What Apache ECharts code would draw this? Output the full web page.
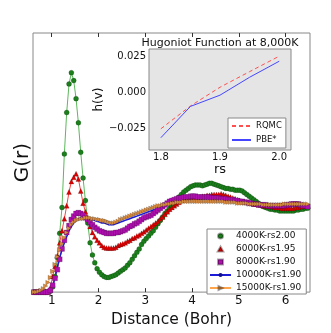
<!DOCTYPE html>
<html>
<head>
<meta charset="utf-8">
<script src="https://cdn.jsdelivr.net/npm/echarts@6/dist/echarts.min.js"></script>
<style>
    html, body { margin: 0; padding: 0; background: #fff; }
    #chart { width: 331px; height: 333px; }
</style>
</head>
<body>
<div id="chart"></div>
<script>
// distance grid (Bohr)
const r = [
    0.62, 0.67, 0.72, 0.77, 0.82, 0.87, 0.92, 0.97, 1.02, 1.07,
    1.12, 1.17, 1.22, 1.27, 1.32, 1.37, 1.42, 1.47, 1.52, 1.57,
    1.62, 1.67, 1.72, 1.77, 1.82, 1.87, 1.92, 1.97, 2.02, 2.07,
    2.12, 2.17, 2.22, 2.27, 2.32, 2.37, 2.42, 2.47, 2.52, 2.57,
    2.62, 2.67, 2.72, 2.77, 2.82, 2.87, 2.92, 2.97, 3.02, 3.07,
    3.12, 3.17, 3.22, 3.27, 3.32, 3.37, 3.42, 3.47, 3.52, 3.57,
    3.62, 3.67, 3.72, 3.77, 3.82, 3.87, 3.92, 3.97, 4.02, 4.07,
    4.12, 4.17, 4.22, 4.27, 4.32, 4.37, 4.42, 4.47, 4.52, 4.57,
    4.62, 4.67, 4.72, 4.77, 4.82, 4.87, 4.92, 4.97, 5.02, 5.07,
    5.12, 5.17, 5.22, 5.27, 5.32, 5.37, 5.42, 5.47, 5.52, 5.57,
    5.62, 5.67, 5.72, 5.77, 5.82, 5.87, 5.92, 5.97, 6.02, 6.07,
    6.12, 6.17, 6.22, 6.27, 6.32, 6.37, 6.42, 6.47
];

const g4000 = [
    0, 0, 0, 0, 0, 0, 0, 0.01, 0.06, 0.18,
    0.40, 0.68, 0.98, 1.60, 2.08, 2.41, 2.54, 2.45, 2.24, 1.96,
    1.62, 1.32, 1.06, 0.80, 0.57, 0.43, 0.34, 0.27, 0.23, 0.20,
    0.18, 0.17, 0.17, 0.18, 0.19, 0.20, 0.22, 0.24, 0.26, 0.28,
    0.31, 0.34, 0.38, 0.42, 0.46, 0.50, 0.55, 0.59, 0.62, 0.65,
    0.68, 0.71, 0.75, 0.79, 0.83, 0.87, 0.91, 0.94, 0.97, 1.00,
    1.04, 1.07, 1.10, 1.13, 1.16, 1.18, 1.20, 1.22, 1.23, 1.24,
    1.24, 1.24, 1.23, 1.24, 1.25, 1.26, 1.26, 1.25, 1.24, 1.23,
    1.22, 1.21, 1.20, 1.20, 1.19, 1.19, 1.18, 1.18, 1.18, 1.17,
    1.15, 1.13, 1.11, 1.09, 1.07, 1.05, 1.03, 1.01, 0.99, 0.98,
    0.97, 0.96, 0.96, 0.95, 0.95, 0.94, 0.94, 0.94, 0.94, 0.94,
    0.94, 0.94, 0.95, 0.95, 0.96, 0.96, 0.97, 0.97
];

const g6000 = [
    0, 0, 0, 0, 0, 0, 0, 0.05, 0.18, 0.30,
    0.42, 0.57, 0.71, 0.85, 1.00, 1.16, 1.28, 1.33, 1.37, 1.31,
    1.17, 1.03, 0.93, 0.85, 0.76, 0.69, 0.64, 0.60, 0.57, 0.54,
    0.52, 0.51, 0.51, 0.51, 0.51, 0.52, 0.54, 0.55, 0.56, 0.57,
    0.59, 0.60, 0.62, 0.63, 0.65, 0.66, 0.68, 0.70, 0.72, 0.74,
    0.76, 0.78, 0.80, 0.82, 0.85, 0.87, 0.90, 0.93, 0.96, 0.98,
    1.00, 1.02, 1.04, 1.06, 1.07, 1.08, 1.09, 1.10, 1.10, 1.10,
    1.10, 1.10, 1.11, 1.11, 1.12, 1.12, 1.13, 1.13, 1.13, 1.13,
    1.14, 1.13, 1.12, 1.11, 1.10, 1.09, 1.08, 1.07, 1.06, 1.05,
    1.05, 1.04, 1.03, 1.03, 1.02, 1.02, 1.01, 1.01, 1.00, 1.00,
    1.00, 0.99, 0.99, 0.98, 0.98, 0.98, 0.97, 0.97, 0.97, 0.97,
    0.97, 0.97, 0.98, 0.98, 0.99, 0.99, 1.00, 1.00
];

const g8000 = [
    0, 0, 0, 0, 0, 0, 0, 0.02, 0.08, 0.16,
    0.26, 0.38, 0.50, 0.60, 0.69, 0.77, 0.84, 0.88, 0.91, 0.92,
    0.91, 0.89, 0.86, 0.84, 0.81, 0.78, 0.75, 0.73, 0.71, 0.70,
    0.69, 0.68, 0.68, 0.68, 0.68, 0.69, 0.69, 0.70, 0.71, 0.72,
    0.74, 0.76, 0.77, 0.79, 0.80, 0.82, 0.84, 0.86, 0.87, 0.88,
    0.89, 0.91, 0.93, 0.95, 0.97, 0.99, 1.01, 1.03, 1.05, 1.06,
    1.07, 1.08, 1.09, 1.09, 1.10, 1.10, 1.10, 1.11, 1.11, 1.11,
    1.10, 1.10, 1.10, 1.10, 1.10, 1.10, 1.09, 1.09, 1.09, 1.09,
    1.08, 1.08, 1.08, 1.07, 1.07, 1.07, 1.06, 1.06, 1.05, 1.05,
    1.04, 1.04, 1.03, 1.03, 1.02, 1.02, 1.01, 1.01, 1.01, 1.01,
    1.00, 1.00, 1.00, 1.00, 1.00, 1.00, 1.00, 1.00, 1.01, 1.01,
    1.02, 1.02, 1.02, 1.02, 1.01, 1.00, 1.00, 0.99
];

const g10000 = [
    0, 0, 0, 0, 0, 0, 0, 0.01, 0.06, 0.17,
    0.29, 0.40, 0.49, 0.57, 0.64, 0.71, 0.76, 0.80, 0.83, 0.85,
    0.86, 0.87, 0.87, 0.86, 0.85, 0.84, 0.83, 0.82, 0.81, 0.80,
    0.80, 0.79, 0.78, 0.78, 0.78, 0.79, 0.80, 0.81, 0.82, 0.83,
    0.84, 0.85, 0.86, 0.87, 0.88, 0.89, 0.90, 0.91, 0.92, 0.93,
    0.94, 0.95, 0.96, 0.97, 0.98, 0.99, 1.00, 1.01, 1.02, 1.03,
    1.04, 1.05, 1.06, 1.07, 1.07, 1.08, 1.08, 1.09, 1.09, 1.09,
    1.09, 1.09, 1.09, 1.09, 1.09, 1.08, 1.08, 1.08, 1.07, 1.07,
    1.07, 1.06, 1.06, 1.06, 1.05, 1.05, 1.05, 1.04, 1.04, 1.04,
    1.03, 1.03, 1.03, 1.02, 1.02, 1.02, 1.01, 1.01, 1.01, 1.01,
    1.00, 1.00, 1.00, 1.00, 1.00, 1.00, 1.00, 1.00, 1.00, 1.00,
    1.01, 1.01, 1.01, 1.00, 1.00, 1.00, 1.00, 1.00
];

const g15000 = [
    0, 0, 0.01, 0.02, 0.04, 0.07, 0.11, 0.17, 0.24, 0.32,
    0.41, 0.49, 0.56, 0.63, 0.69, 0.74, 0.78, 0.81, 0.83, 0.84,
    0.85, 0.85, 0.86, 0.86, 0.86, 0.85, 0.85, 0.84, 0.84, 0.83,
    0.83, 0.82, 0.81, 0.80, 0.80, 0.81, 0.82, 0.84, 0.85, 0.86,
    0.87, 0.88, 0.89, 0.90, 0.91, 0.92, 0.93, 0.94, 0.95, 0.96,
    0.97, 0.98, 0.99, 1.00, 1.00, 1.01, 1.01, 1.02, 1.02, 1.03,
    1.03, 1.04, 1.04, 1.04, 1.05, 1.05, 1.05, 1.05, 1.05, 1.05,
    1.05, 1.05, 1.05, 1.05, 1.05, 1.05, 1.05, 1.05, 1.05, 1.05,
    1.05, 1.05, 1.04, 1.04, 1.04, 1.04, 1.04, 1.03, 1.03, 1.03,
    1.03, 1.03, 1.02, 1.02, 1.02, 1.02, 1.02, 1.02, 1.01, 1.01,
    1.01, 1.01, 1.01, 1.01, 1.01, 1.01, 1.01, 1.02, 1.02, 1.02,
    1.02, 1.02, 1.02, 1.02, 1.02, 1.02, 1.02, 1.02
];

const xTicks = [1, 2, 3, 4, 5, 6];

// inset: Hugoniot function
const rs = [1.80, 1.85, 1.90, 1.95, 2.00];
const hRQMC = [-0.0253, -0.0095, 0.0035, 0.0143, 0.0250];
const errRQMC = [0.0012, 0.0012, 0.0012, 0.0012, 0.0040];
const hPBE = [-0.0315, -0.0098, -0.0020, 0.0104, 0.0215];
const errPBE = [0.0010, 0.0010, 0.0010, 0.0010, 0.0020];
const zeroLine = [[1.80, 0], [2.00, 0]];
const rsTicks = [1.8, 1.9, 2.0];
const hTicks = [-0.025, 0, 0.025];

const FONT = 'DejaVu Sans';
const chart = echarts.init(document.getElementById('chart'));

function pairs(xs, ys) {
    return xs.map((x, i) => [x, ys[i]]);
}

function gSeries(name, ys, opt) {
    return Object.assign({
        name: name,
        type: 'line',
        xAxisIndex: 0,
        yAxisIndex: 0,
        data: pairs(r, ys),
        showSymbol: true,
        showAllSymbol: true,
        animation: false,
        clip: true
    }, opt);
}

function errSeries(xs, ys, errs) {
    return {
        type: 'custom',
        xAxisIndex: 2,
        yAxisIndex: 1,
        silent: true,
        z: 4,
        data: xs.map((x, i) => [x, ys[i] - errs[i], ys[i] + errs[i]]),
        renderItem: function (params, api) {
            const lo = api.coord([api.value(0), api.value(1)]);
            const hi = api.coord([api.value(0), api.value(2)]);
            const st = { stroke: '#7a7a7a', lineWidth: 1 };
            return {
                type: 'group',
                children: [
                    { type: 'line', shape: { x1: lo[0], y1: lo[1], x2: hi[0], y2: hi[1] }, style: st },
                    { type: 'line', shape: { x1: lo[0] - 2, y1: lo[1], x2: lo[0] + 2, y2: lo[1] }, style: st },
                    { type: 'line', shape: { x1: hi[0] - 2, y1: hi[1], x2: hi[0] + 2, y2: hi[1] }, style: st }
                ]
            };
        }
    };
}

const edge = { borderColor: 'rgba(0,0,0,0.35)', borderWidth: 0.5 };
const tickStyle = { show: true, inside: true, length: 4, lineStyle: { color: '#333', width: 1 } };
const noMarker = { opacity: 0, color: 'rgba(0,0,0,0)', borderWidth: 0 };

// legend marker shapes (path icons keep their aspect in the legend box)
const triIcon = 'path://M5,0L10,9L0,9Z';
const sqIcon = 'path://M0,0L10,0L10,10L0,10Z';

const option = {
    animation: false,
    backgroundColor: '#fff',
    textStyle: { fontFamily: FONT },
    title: {
        text: 'Hugoniot Function at 8,000K',
        left: 215,
        top: 33,
        textAlign: 'center',
        textStyle: { fontFamily: FONT, fontSize: 11, fontWeight: 'normal', color: '#111' }
    },
    grid: [
        { left: 33, top: 33, right: 21, bottom: 33, show: true, borderColor: '#888', borderWidth: 1, backgroundColor: '#fff' },
        { left: 149, top: 49, right: 40, bottom: 183, show: true, borderColor: '#888', borderWidth: 1, backgroundColor: '#e5e5e5', z: 5 }
    ],
    xAxis: [
        {
            type: 'value', gridIndex: 0, min: 0.6, max: 6.52,
            name: 'Distance (Bohr)', nameLocation: 'middle', nameGap: 11,
            nameTextStyle: { fontFamily: FONT, fontSize: 15.5, color: '#111' },
            axisLine: { show: false },
            axisTick: Object.assign({ customValues: xTicks }, tickStyle),
            axisLabel: { customValues: xTicks, margin: 3, fontFamily: FONT, fontSize: 12, color: '#111' },
            splitLine: { show: false }
        },
        {
            type: 'value', gridIndex: 0, min: 0.6, max: 6.52, position: 'top',
            axisLine: { show: false },
            axisTick: Object.assign({ customValues: xTicks }, tickStyle),
            axisLabel: { show: false },
            splitLine: { show: false }
        },
        {
            type: 'value', gridIndex: 1, min: 1.78, max: 2.02,
            name: 'rs', nameLocation: 'middle', nameGap: 5,
            nameTextStyle: { fontFamily: FONT, fontSize: 13, color: '#111' },
            axisLine: { show: false },
            axisTick: Object.assign({ customValues: rsTicks }, tickStyle),
            axisLabel: {
                customValues: rsTicks, margin: 2, fontFamily: FONT, fontSize: 10, color: '#111',
                formatter: v => v.toFixed(1)
            },
            splitLine: { show: false }
        },
        {
            type: 'value', gridIndex: 1, min: 1.78, max: 2.02, position: 'top',
            axisLine: { show: false },
            axisTick: Object.assign({ customValues: rsTicks }, tickStyle),
            axisLabel: { show: false },
            splitLine: { show: false }
        }
    ],
    yAxis: [
        {
            type: 'value', gridIndex: 0, min: 0, max: 3,
            name: 'G(r)', nameLocation: 'middle', nameGap: 0,
            nameTextStyle: { fontFamily: FONT, fontSize: 20, color: '#111' },
            axisLine: { show: false },
            axisTick: { show: false },
            axisLabel: { show: false },
            splitLine: { show: false }
        },
        {
            type: 'value', gridIndex: 1, min: -0.04, max: 0.03,
            name: 'h(v)', nameLocation: 'middle', nameGap: 44,
            nameTextStyle: { fontFamily: FONT, fontSize: 12, color: '#111' },
            axisLine: { show: false },
            axisTick: Object.assign({ customValues: hTicks }, tickStyle),
            axisLabel: {
                customValues: hTicks, margin: 3, fontFamily: FONT, fontSize: 10, color: '#111',
                formatter: v => (v < 0 ? '\u2212' : '') + Math.abs(v).toFixed(3)
            },
            splitLine: { show: false }
        },
        {
            type: 'value', gridIndex: 1, min: -0.04, max: 0.03, position: 'right',
            axisLine: { show: false },
            axisTick: Object.assign({ customValues: hTicks }, tickStyle),
            axisLabel: { show: false },
            splitLine: { show: false }
        }
    ],
    legend: [
        {
            data: [
                { name: '4000K-rs2.00', icon: 'circle' },
                { name: '6000K-rs1.95', icon: triIcon },
                { name: '8000K-rs1.90', icon: sqIcon },
                { name: '10000K-rs1.90' },
                { name: '15000K-rs1.90' }
            ],
            orient: 'vertical', left: 207, top: 229,
            padding: [2, 5, 1, 2],
            itemWidth: 21, itemHeight: 5, itemGap: 3,
            symbolKeepAspect: true,
            backgroundColor: '#fff', borderColor: '#888', borderWidth: 1,
            textStyle: { fontFamily: FONT, fontSize: 9, lineHeight: 10, color: '#111' }
        },
        {
            data: [
                { name: 'RQMC', itemStyle: noMarker },
                { name: 'PBE*', itemStyle: noMarker }
            ],
            orient: 'vertical', left: 228, top: 118,
            padding: [3, 4, 3, 3],
            itemWidth: 19, itemHeight: 6, itemGap: 4,
            backgroundColor: '#fff', borderColor: '#888', borderWidth: 1, z: 8,
            textStyle: { fontFamily: FONT, fontSize: 8.5, lineHeight: 10, color: '#111' }
        }
    ],
    series: [
        gSeries('4000K-rs2.00', g4000, {
            symbol: 'circle', symbolSize: 5,
            itemStyle: Object.assign({ color: '#1b801b' }, edge),
            lineStyle: { color: '#5cb85c', width: 1 }
        }),
        gSeries('6000K-rs1.95', g6000, {
            symbol: 'triangle', symbolSize: 5,
            itemStyle: Object.assign({ color: '#e00000' }, edge),
            lineStyle: { color: '#ff4040', width: 1 }
        }),
        gSeries('8000K-rs1.90', g8000, {
            symbol: 'rect', symbolSize: 5,
            itemStyle: Object.assign({ color: '#b010b0' }, edge),
            lineStyle: { color: '#c040c0', width: 1 }
        }),
        gSeries('10000K-rs1.90', g10000, {
            symbol: 'none',
            itemStyle: { color: '#10108a' },
            lineStyle: { color: '#1c1cd8', width: 1.5 }
        }),
        gSeries('15000K-rs1.90', g15000, {
            symbol: 'triangle', symbolSize: 4.5, symbolRotate: -90,
            itemStyle: Object.assign({ color: '#d98c40' }, edge),
            lineStyle: { color: '#ffa64d', width: 1 }
        }),
        {
            type: 'line', xAxisIndex: 2, yAxisIndex: 1, data: zeroLine,
            symbol: 'none', silent: true, z: 3,
            lineStyle: { color: '#222', width: 1 }
        },
        {
            name: 'RQMC', type: 'line', xAxisIndex: 2, yAxisIndex: 1,
            data: pairs(rs, hRQMC), symbol: 'none', z: 5,
            itemStyle: { color: '#ff5050' },
            lineStyle: { color: '#ff5050', width: 1, type: [4, 3] }
        },
        {
            name: 'PBE*', type: 'line', xAxisIndex: 2, yAxisIndex: 1,
            data: pairs(rs, hPBE), symbol: 'none', z: 5,
            itemStyle: { color: '#4545ff' },
            lineStyle: { color: '#4545ff', width: 1 }
        },
        errSeries(rs, hRQMC, errRQMC),
        errSeries(rs, hPBE, errPBE)
    ]
};

chart.setOption(option);
</script>
</body>
</html>
